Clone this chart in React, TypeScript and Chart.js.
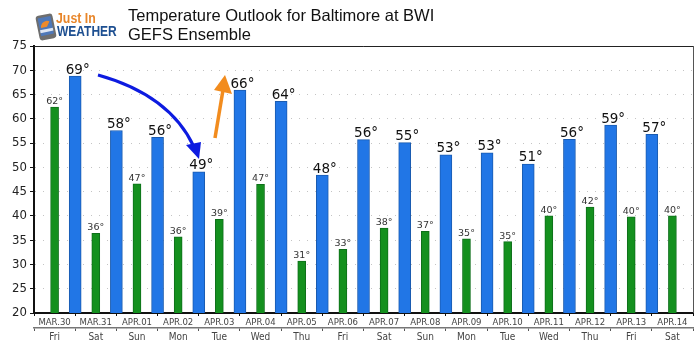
import React, { useEffect, useRef } from "react";
import { Chart, registerables } from "chart.js";

Chart.register(...registerables);

const dates = ["MAR.30","MAR.31","APR.01","APR.02","APR.03","APR.04","APR.05","APR.06","APR.07","APR.08","APR.09","APR.10","APR.11","APR.12","APR.13","APR.14"];
const weekdays = ["Fri","Sat","Sun","Mon","Tue","Wed","Thu","Fri","Sat","Sun","Mon","Tue","Wed","Thu","Fri","Sat"];
const lows = [62.4,36.4,46.6,35.7,39.3,46.5,30.7,33.1,37.5,36.8,35.3,34.7,40,41.8,39.8,40];
const lowLabels = ["62°","36°","47°","36°","39°","47°","31°","33°","38°","37°","35°","35°","40°","42°","40°","40°"];
const highs = [68.8,57.6,56.2,49.1,65.9,63.6,48.4,55.7,55.1,52.6,53,50.7,55.8,58.7,56.8];
const highLabels = ["69°","58°","56°","49°","66°","64°","48°","56°","55°","53°","53°","51°","56°","59°","57°"];
const titleLines = ["Temperature Outlook for Baltimore at BWI", "GEFS Ensemble"];

const valueLabels = {
  id: "valueLabels",
  afterDatasetsDraw(chart: any) {
    const { ctx } = chart;
    ctx.save();
    ctx.textAlign = "center";
    ctx.textBaseline = "alphabetic";
    const g = chart.getDatasetMeta(0).data;
    ctx.font = '9.5px "DejaVu Sans"';
    ctx.fillStyle = "#333";
    g.forEach((el: any, i: number) => ctx.fillText(lowLabels[i], el.x, el.y - 3));
    const b = chart.getDatasetMeta(1).data;
    ctx.font = '13.5px "DejaVu Sans"';
    ctx.fillStyle = "#111";
    highs.forEach((_, i) => {
      const el = b[i + 1];
      ctx.fillText(highLabels[i], el.x + 2.5, el.y - 2.5);
    });
    ctx.restore();
  },
};

const frame = {
  id: "frame",
  afterDraw(chart: any) {
    const { ctx, chartArea: a } = chart;
    ctx.save();
    ctx.lineWidth = 1;
    ctx.beginPath();
    ctx.moveTo(a.left, a.top + 0.5);
    ctx.lineTo(a.right + 0.5, a.top + 0.5);
    ctx.strokeStyle = "#222";
    ctx.stroke();
    ctx.beginPath();
    ctx.strokeStyle = "#555";
    ctx.moveTo(a.right + 0.5, a.top);
    ctx.lineTo(a.right + 0.5, a.bottom);
    ctx.stroke();
    ctx.restore();
  },
};

const decorations = {
  id: "decorations",
  afterDraw(chart: any) {
    const { ctx } = chart;
    ctx.save();
    // heading
    ctx.fillStyle = "#111";
    ctx.font = '16.5px "Liberation Sans"';
    ctx.textAlign = "left";
    ctx.textBaseline = "alphabetic";
    ctx.fillText(titleLines[0], 128, 21);
    ctx.fillText(titleLines[1], 128, 40);

    // logo: tablet
    ctx.save();
    ctx.translate(46, 27);
    ctx.rotate(-0.2);
    ctx.fillStyle = "#6e6e6e";
    ctx.beginPath();
    ctx.roundRect(-8.5, -12.5, 17, 25, 3);
    ctx.fill();
    ctx.fillStyle = "#4f78b8";
    ctx.fillRect(-6.5, -10, 13, 18);
    ctx.fillStyle = "#ef8a2a";
    ctx.beginPath();
    ctx.arc(1, 0, 6, Math.PI, Math.PI * 1.7);
    ctx.lineTo(1, 0);
    ctx.fill();
    ctx.fillStyle = "#dfe6f2";
    ctx.fillRect(-6.5, 2, 13, 3);
    ctx.restore();
    // logo: words
    ctx.save();
    ctx.translate(56, 23);
    ctx.scale(0.88, 1);
    ctx.fillStyle = "#e8862a";
    ctx.font = 'bold 14px "Liberation Sans"';
    ctx.fillText("Just In", 0, 0);
    ctx.restore();
    ctx.save();
    ctx.translate(57, 35.5);
    ctx.scale(0.8, 1);
    ctx.fillStyle = "#1d4f91";
    ctx.font = 'bold 15px "Liberation Sans"';
    ctx.fillText("WEATHER", 0, 0);
    ctx.restore();

    // blue arrow
    ctx.strokeStyle = "#0d1be0";
    ctx.fillStyle = "#0d1be0";
    ctx.lineWidth = 3;
    ctx.beginPath();
    ctx.moveTo(98, 75);
    ctx.quadraticCurveTo(170, 95, 194, 147);
    ctx.stroke();
    ctx.beginPath();
    ctx.moveTo(186, 145);
    ctx.lineTo(201, 142);
    ctx.lineTo(199, 159);
    ctx.closePath();
    ctx.fill();

    // orange arrow
    ctx.strokeStyle = "#f28c1e";
    ctx.fillStyle = "#f28c1e";
    ctx.lineWidth = 3.5;
    ctx.beginPath();
    ctx.moveTo(215, 138);
    ctx.lineTo(223, 90);
    ctx.stroke();
    ctx.beginPath();
    ctx.moveTo(225, 75);
    ctx.lineTo(214, 90);
    ctx.lineTo(232, 94);
    ctx.closePath();
    ctx.fill();
    ctx.restore();
  },
};

export default function App() {
  const ref = useRef<HTMLCanvasElement>(null);
  useEffect(() => {
    const chart = new Chart(ref.current as HTMLCanvasElement, {
      type: "bar",
      data: {
        labels: dates,
        datasets: [
          {
            label: "Low",
            data: lows,
            xAxisID: "x",
            yAxisID: "y",
            grouped: false,
            backgroundColor: "#14901e",
            borderColor: "#0e6f1a",
            borderWidth: 1,
            barThickness: 8,
          },
          {
            label: "High",
            data: [null, ...highs, null],
            xAxisID: "xHigh",
            yAxisID: "y",
            grouped: false,
            backgroundColor: "#2176e6",
            borderColor: "#1a5bb0",
            borderWidth: 1,
            barThickness: 12,
          },
        ] as any,
      },
      options: {
        animation: false,
        responsive: false,
        maintainAspectRatio: false,
        layout: { padding: { top: 46, right: 7, left: 0, bottom: 0 } },
        plugins: { legend: { display: false }, title: { display: false }, tooltip: { enabled: false } },
        scales: {
          y: {
            min: 20,
            max: 75,
            afterFit: (s: any) => { s.width = 34; },
            ticks: { stepSize: 5, color: "#222", font: { family: "DejaVu Sans Condensed", size: 13 }, padding: 3 },
            grid: { color: "#c4c4c4", lineWidth: 1, tickColor: "#111", tickLength: 4, tickWidth: 1 },
            border: { color: "#111", width: 2, dash: [1, 7] },
          },
          x: {
            type: "category",
            labels: dates,
            position: "bottom",
            weight: 0,
            offset: true,
            afterFit: (s: any) => { s.height = 15; },
            ticks: { color: "#444", font: { family: "DejaVu Sans Condensed", size: 9.5 }, padding: 1, maxRotation: 0, autoSkip: false },
            grid: { drawOnChartArea: false, tickLength: 3, tickColor: "#111", offset: true },
            border: { color: "#111", width: 2 },
          },
          xDay: {
            type: "category",
            labels: weekdays,
            position: "bottom",
            weight: 1,
            offset: true,
            afterFit: (s: any) => { s.height = 24; },
            ticks: { color: "#444", font: { family: "DejaVu Sans Condensed", size: 10 }, padding: 0, maxRotation: 0, autoSkip: false },
            grid: { drawOnChartArea: false, tickLength: 3, tickColor: "#555", offset: true },
            border: { color: "#777", width: 1.5 },
          },
          xHigh: {
            type: "category",
            labels: ["", ...dates],
            display: false,
            offset: false,
          },
        },
      } as any,
      plugins: [valueLabels, frame, decorations],
    });
    return () => chart.destroy();
  }, []);
  return (
    <div style={{ position: "fixed", left: 0, top: 0, width: 700, height: 352, background: "#fff" }}>
      <canvas ref={ref} width={700} height={352} style={{ display: "block" }} />
    </div>
  );
}
